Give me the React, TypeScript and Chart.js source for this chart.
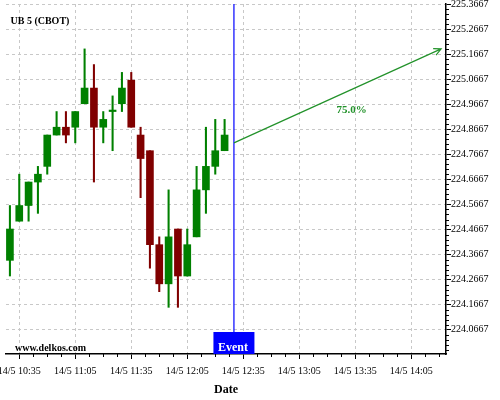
import React, { useEffect, useRef } from "react";
import { Chart, registerables } from "chart.js";

Chart.register(...registerables);

const SYMBOL = "UB 5 (CBOT)";
const WATERMARK = "www.delkos.com";
const AXIS_TITLE = "Date";

const TIMES = [
  "10:30", "10:35", "10:40", "10:45", "10:50", "10:55",
  "11:00", "11:05", "11:10", "11:15", "11:20", "11:25",
  "11:30", "11:35", "11:40", "11:45", "11:50", "11:55",
  "12:00", "12:05", "12:10", "12:15", "12:20", "12:25",
];
const OPEN = [
  224.34375, 224.5, 224.5625, 224.65625, 224.71875, 224.84375,
  224.875, 224.875, 224.96875, 225.03125, 224.875, 224.9375,
  224.96875, 225.0625, 224.84375, 224.78125, 224.40625, 224.25,
  224.46875, 224.28125, 224.4375, 224.625, 224.71875, 224.78125,
];
const HIGH = [
  224.5625, 224.6875, 224.65625, 224.71875, 224.84375, 224.9375,
  224.9375, 224.9375, 225.1875, 225.125, 224.9375, 225.0,
  225.09375, 225.09375, 224.875, 224.78125, 224.4375, 224.625,
  224.46875, 224.46875, 224.71875, 224.875, 224.90625, 224.90625,
];
const LOW = [
  224.28125, 224.5, 224.5, 224.53125, 224.6875, 224.84375,
  224.8125, 224.8125, 224.96875, 224.65625, 224.8125, 224.78125,
  224.9375, 224.875, 224.59375, 224.3125, 224.21875, 224.15625,
  224.15625, 224.28125, 224.4375, 224.53125, 224.6875, 224.78125,
];
const CLOSE = [
  224.46875, 224.5625, 224.65625, 224.6875, 224.84375, 224.875,
  224.84375, 224.9375, 225.03125, 224.875, 224.90625, 224.9375,
  225.03125, 224.875, 224.75, 224.40625, 224.25, 224.4375,
  224.28125, 224.40625, 224.625, 224.71875, 224.78125, 224.84375,
];

const X_TICK_LABELS = [
  "14/5 10:35", "14/5 11:05", "14/5 11:35", "14/5 12:05",
  "14/5 12:35", "14/5 13:05", "14/5 13:35", "14/5 14:05",
];
const Y_TICK_LABELS = [
  "224.0667", "224.1667", "224.2667", "224.3667", "224.4667", "224.5667", "224.6667",
  "224.7667", "224.8667", "224.9667", "225.0667", "225.1667", "225.2667", "225.3667",
];

const X_MIN = 627.9;
const X_MAX = 863.6;
const Y_MIN = 223.97;
const Y_MAX = 225.3667;
const X_MINOR_STEP = 7.5;
const Y_MINOR_STEP = 0.02;

const EVENT_TIME = "12:30";
const EVENT_LABEL = "Event";
const FORECAST_START_TIME = "12:30";
const FORECAST_START_PRICE = 224.8125;
const FORECAST_END_TIME = "14:21";
const FORECAST_END_PRICE = 225.1875;
const FORECAST_LABEL = "75.0%";
const FORECAST_LABEL_TIME = "13:33";
const FORECAST_LABEL_PRICE = 224.944;

const UP = "#008000";
const DOWN = "#800000";
const FORECAST_COLOR = "#22922a";
const EVENT_COLOR = "#0000ff";
const GRID = "#c8c8c8";
const FONT = '"Liberation Serif", "Times New Roman", serif';

const toMin = (t: string) => {
  const hm = t.includes(" ") ? t.split(" ")[1] : t;
  const [h, m] = hm.split(":").map(Number);
  return h * 60 + m;
};

const overlayPlugin = {
  id: "overlay",
  afterDatasetsDraw(chart: any) {
    const { ctx, chartArea } = chart;
    const xs = chart.scales.x;
    const ys = chart.scales.y;
    ctx.save();

    // minor ticks x
    ctx.strokeStyle = "#000";
    ctx.lineWidth = 1;
    const xMajor = X_TICK_LABELS.map(toMin);
    const x0 = xMajor[0];
    for (let k = -10; k < 60; k++) {
      const v = x0 + k * X_MINOR_STEP;
      if (v < X_MIN || v > X_MAX) continue;
      if (xMajor.some((m) => Math.abs(m - v) < 0.01)) continue;
      const px = Math.round(xs.getPixelForValue(v)) + 0.5;
      ctx.beginPath();
      ctx.moveTo(px, chartArea.bottom);
      ctx.lineTo(px, chartArea.bottom + 3);
      ctx.stroke();
    }
    // minor ticks y
    const yMajor = Y_TICK_LABELS.map(parseFloat);
    const y0 = yMajor[0];
    for (let k = -10; k < 100; k++) {
      const v = y0 + k * Y_MINOR_STEP;
      if (v < Y_MIN || v > Y_MAX + 1e-6) continue;
      if (yMajor.some((m) => Math.abs(m - v) < 1e-4)) continue;
      const py = Math.round(ys.getPixelForValue(v)) + 0.5;
      ctx.beginPath();
      ctx.moveTo(chartArea.right, py);
      ctx.lineTo(chartArea.right + 3, py);
      ctx.stroke();
    }

    // event line + box
    const ex = xs.getPixelForValue(toMin(EVENT_TIME));
    const boxH = 22;
    const boxW = 41;
    const boxTop = chartArea.bottom - boxH;
    ctx.strokeStyle = EVENT_COLOR;
    ctx.lineWidth = 1.2;
    ctx.beginPath();
    ctx.moveTo(ex, chartArea.top);
    ctx.lineTo(ex, boxTop);
    ctx.stroke();
    ctx.fillStyle = EVENT_COLOR;
    ctx.fillRect(ex - boxW / 2, boxTop, boxW, boxH);
    ctx.fillStyle = "#fff";
    ctx.font = `bold 12px ${FONT}`;
    ctx.textAlign = "center";
    ctx.textBaseline = "alphabetic";
    ctx.fillText(EVENT_LABEL, ex - 1, chartArea.bottom - 3.5);

    // forecast arrow
    const ax1 = xs.getPixelForValue(toMin(FORECAST_START_TIME));
    const ay1 = ys.getPixelForValue(FORECAST_START_PRICE);
    const ax2 = xs.getPixelForValue(toMin(FORECAST_END_TIME));
    const ay2 = ys.getPixelForValue(FORECAST_END_PRICE);
    ctx.strokeStyle = FORECAST_COLOR;
    ctx.lineWidth = 1.2;
    ctx.beginPath();
    ctx.moveTo(ax1, ay1);
    ctx.lineTo(ax2, ay2);
    const ang = Math.atan2(ay2 - ay1, ax2 - ax1);
    const hl = 8;
    ctx.moveTo(ax2 - hl * Math.cos(ang - 0.45), ay2 - hl * Math.sin(ang - 0.45));
    ctx.lineTo(ax2, ay2);
    ctx.lineTo(ax2 - hl * Math.cos(ang + 0.45), ay2 - hl * Math.sin(ang + 0.45));
    ctx.stroke();

    ctx.fillStyle = FORECAST_COLOR;
    ctx.font = `bold 11px ${FONT}`;
    ctx.textAlign = "center";
    ctx.textBaseline = "middle";
    ctx.fillText(
      FORECAST_LABEL,
      xs.getPixelForValue(toMin(FORECAST_LABEL_TIME)),
      ys.getPixelForValue(FORECAST_LABEL_PRICE)
    );

    // title and watermark
    ctx.fillStyle = "#000";
    ctx.font = `bold 10px ${FONT}`;
    ctx.textAlign = "left";
    ctx.textBaseline = "alphabetic";
    ctx.fillText(SYMBOL, 10.5, 23.5);
    ctx.fillText(WATERMARK, 15, 350.5);

    ctx.restore();
  },
};

export default function App() {
  const ref = useRef<HTMLCanvasElement | null>(null);

  useEffect(() => {
    if (!ref.current) return;
    const colors = OPEN.map((o, i) => (CLOSE[i] >= o ? UP : DOWN));
    const wicks = TIMES.map((t, i) => ({ x: toMin(t), y: [LOW[i], HIGH[i]] }));
    const bodies = TIMES.map((t, i) => ({ x: toMin(t), y: [OPEN[i], CLOSE[i]] }));

    const chart = new Chart(ref.current, {
      type: "bar",
      data: {
        datasets: [
          {
            data: wicks as any,
            backgroundColor: colors,
            barThickness: 1.4,
            grouped: false,
            borderWidth: 0,
          } as any,
          {
            data: bodies as any,
            backgroundColor: colors,
            barThickness: 7,
            grouped: false,
            borderWidth: 0,
            minBarLength: 1.5,
          } as any,
        ],
      },
      options: {
        animation: false,
        responsive: false,
        devicePixelRatio: 1,
        layout: { padding: { left: 6, top: 4, right: 0, bottom: 0 } },
        plugins: { legend: { display: false }, tooltip: { enabled: false } },
        scales: {
          x: {
            type: "linear",
            min: X_MIN,
            max: X_MAX,
            offset: false,
            position: "bottom",
            afterBuildTicks: (s: any) => {
              s.ticks = X_TICK_LABELS.map((l) => ({ value: toMin(l) }));
            },
            afterFit: (s: any) => {
              s.height = 46;
              s.paddingLeft = 0;
              s.paddingRight = 0;
            },
            ticks: {
              autoSkip: false,
              maxRotation: 0,
              minRotation: 0,
              padding: 6,
              color: "#000",
              font: { family: FONT, size: 10 },
              callback: (_v: any, i: number) => X_TICK_LABELS[i],
            },
            grid: {
              color: GRID,
              lineWidth: 1,
              drawTicks: true,
              tickLength: 5,
              tickColor: "#000",
              offset: false,
            },
            border: { display: true, color: "#000", width: 1.5, dash: [3, 3] },
            title: {
              display: true,
              text: AXIS_TITLE,
              color: "#000",
              font: { family: FONT, size: 12, weight: "bold" },
              padding: { top: 0, bottom: 3 },
            },
          } as any,
          y: {
            type: "linear",
            position: "right",
            min: Y_MIN,
            max: Y_MAX,
            afterBuildTicks: (s: any) => {
              s.ticks = Y_TICK_LABELS.map((l) => ({ value: parseFloat(l) }));
            },
            afterFit: (s: any) => {
              s.width = 54;
              s.paddingTop = 0;
              s.paddingBottom = 0;
            },
            ticks: {
              padding: 0,
              color: "#000",
              font: { family: FONT, size: 10 },
              callback: (_v: any, i: number) => Y_TICK_LABELS[i],
            },
            grid: {
              color: GRID,
              lineWidth: 1,
              drawTicks: true,
              tickLength: 5,
              tickColor: "#000",
            },
            border: { display: true, color: "#000", width: 1.5, dash: [3, 3] },
          } as any,
        },
      },
      plugins: [overlayPlugin],
    });
    return () => chart.destroy();
  }, []);

  return (
    <div style={{ position: "absolute", left: 0, top: 0, width: 500, height: 400, background: "#fff" }}>
      <canvas ref={ref} width={500} height={400} style={{ display: "block" }} />
    </div>
  );
}
